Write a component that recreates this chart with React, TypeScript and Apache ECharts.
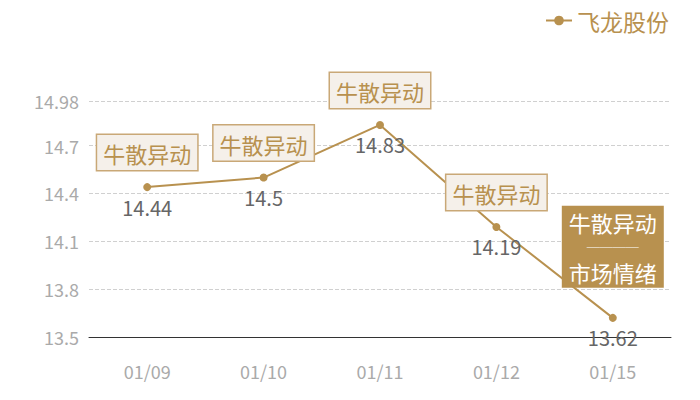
import React, { useEffect, useRef } from "react";
import * as echarts from "echarts";

const categories = ["01/09", "01/10", "01/11", "01/12", "01/15"];
const prices = [14.44, 14.5, 14.83, 14.19, 13.62];
const seriesName = "飞龙股份";
const eventLabels = ["牛散异动", "牛散异动", "牛散异动", "牛散异动", "牛散异动"];
const lastEventExtra = ["────", "市场情绪"];
const yMin = 13.5;
const yMax = 14.98;
const yInterval = 0.3;

const GOLD = "#b8914f";
const FONT = "'Noto Sans CJK SC', 'Noto Sans', sans-serif";

export default function App() {
  const ref = useRef<HTMLDivElement>(null);
  useEffect(() => {
    if (!ref.current) return;
    const chart = echarts.init(ref.current, null, { renderer: "svg" });
    const lastIdx = categories.length - 1;
    chart.setOption({
      animation: false,
      textStyle: { fontFamily: FONT },
      legend: {
        right: 26,
        top: 4,
        itemWidth: 26,
        itemHeight: 12,
        itemGap: 6,
        textStyle: { color: GOLD, fontSize: 23, fontFamily: FONT },
        data: [seriesName],
      },
      grid: { left: 89, right: 29, top: 101, bottom: 63 },
      xAxis: {
        type: "category",
        data: categories,
        boundaryGap: true,
        axisLine: { show: true, lineStyle: { color: "#333", width: 1 } },
        axisTick: { show: false },
        axisLabel: { color: "#aaa", fontSize: 18, margin: 25, fontFamily: FONT },
      },
      yAxis: {
        type: "value",
        min: yMin,
        max: yMax,
        interval: yInterval,
        axisLine: { show: false },
        axisTick: { show: false },
        axisLabel: { color: "#aaa", fontSize: 18, margin: 10, fontFamily: FONT },
        splitLine: { show: true, lineStyle: { color: "#d0d0d0", type: "dashed", width: 1 } },
      },
      series: [
        {
          name: seriesName,
          type: "line",
          data: prices,
          symbol: "circle",
          symbolSize: 8,
          lineStyle: { color: GOLD, width: 2 },
          itemStyle: { color: GOLD },
          label: {
            show: true,
            position: "bottom",
            distance: 6,
            color: "#666",
            fontSize: 20,
            fontFamily: FONT,
          },
          markPoint: {
            symbol: "circle",
            symbolSize: 0,
            data: categories.map((c, i) => {
              const isLast = i === lastIdx;
              return {
                coord: [c, prices[i]],
                value: eventLabels[i],
                label: isLast
                  ? {
                      show: true,
                      position: "top",
                      distance: 31,
                      formatter: `{a|${eventLabels[i]}}\n{s|${lastEventExtra[0]}}\n{a|${lastEventExtra[1]}}`,
                      rich: {
                        a: { color: "#fff", fontSize: 22, lineHeight: 28, fontFamily: FONT },
                        s: { color: "#fff", fontSize: 13, lineHeight: 22, fontFamily: FONT },
                      },
                      backgroundColor: GOLD,
                      borderColor: GOLD,
                      borderWidth: 1,
                      padding: [1, 6, 1, 6],
                    }
                  : {
                      show: true,
                      position: "top",
                      distance: 17,
                      formatter: eventLabels[i],
                      color: GOLD,
                      fontSize: 22,
                      lineHeight: 30,
                      fontFamily: FONT,
                      backgroundColor: "#f5f0ea",
                      borderColor: "#c9a877",
                      borderWidth: 1.5,
                      padding: [3, 6, 2, 6],
                    },
              };
            }),
          },
        },
      ],
    });
    return () => chart.dispose();
  }, []);
  return (
    <div
      ref={ref}
      style={{ position: "fixed", left: 0, top: 0, width: 700, height: 400, background: "#fff" }}
    />
  );
}
